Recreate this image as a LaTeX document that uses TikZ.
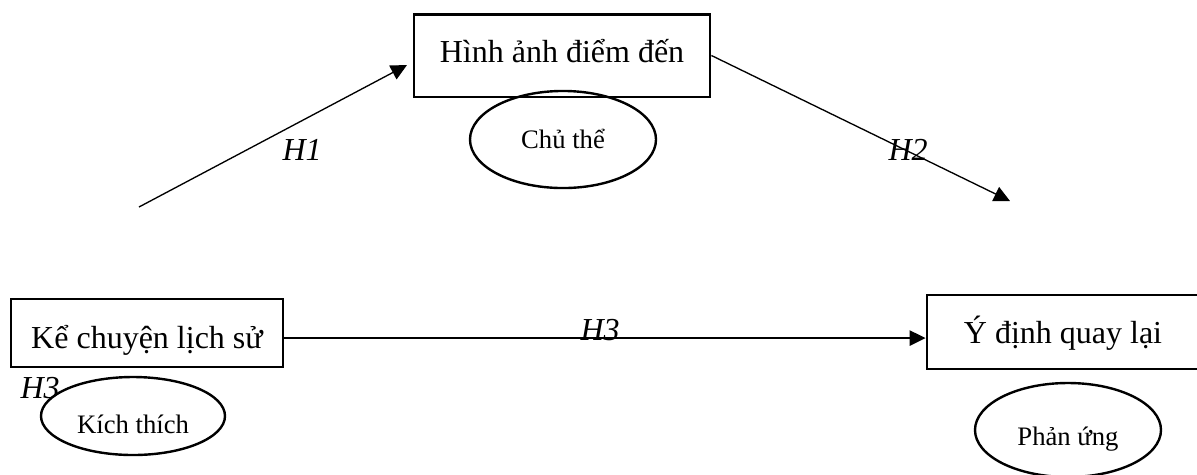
\documentclass[tikz,border=0pt]{standalone}
\usepackage{fontspec}
\setmainfont{Liberation Serif}
\usetikzlibrary{shapes.geometric,arrows.meta}
\begin{document}
\begin{tikzpicture}[x=0.375pt,y=-0.375pt,
  box/.style={draw,line width=1.1pt,inner sep=0pt,font=\fontsize{12}{14}\selectfont},
  oval/.style={draw,ellipse,line width=0.9pt,inner sep=0pt,font=\fontsize{10}{12}\selectfont},
  conn/.style={line width=0.5pt,-{Triangle[length=6pt,width=5.8pt]}},
  hlab/.style={font=\fontsize{12}{14}\selectfont\itshape,inner sep=0pt,anchor=base west}]
\useasboundingbox (0,0) rectangle (1197,474);
\clip (0,0) rectangle (1197,474);
% boxes
\node[box,minimum width=111pt,minimum height=31.1pt,text height=8pt,text depth=2.4pt] (img) at (562,55.5) {Hình ảnh điểm đến};
\node[box,minimum width=102pt,minimum height=25.5pt,text height=13.65pt,text depth=2.4pt] (story) at (147,333) {Kể chuyện lịch sử};
\node[box,minimum width=102pt,minimum height=27.75pt,text height=10.65pt,text depth=2.4pt] (intent) at (1063,332) {Ý định quay lại};
% ellipses
\node[oval,minimum width=69.75pt,minimum height=36.4pt,text height=8pt,text depth=0.9pt] (subj) at (563,139.5) {Chủ thể};
\node[oval,minimum width=69pt,minimum height=29.25pt,text height=13.5pt,text depth=0.75pt] (stim) at (133,416) {Kích thích};
\node[oval,minimum width=69.75pt,minimum height=35.25pt,text height=12pt,text depth=0.75pt] (resp) at (1068,430) {Phản ứng};
% free ends
\coordinate (h1s) at (139,207);
\coordinate (h1e) at (407,65);
\coordinate (h2e) at (1010,201);
% connectors
\draw[conn] (h1s) -- (h1e);
\draw[conn] (img.east) -- (h2e);
\draw[conn] ([yshift=-1.9pt]story.east) -- ([yshift=-1.9pt]story.east -| intent.west);
% labels
\node[hlab] (l1) at (282,160) {H1};
\node[hlab] (l2) at (888,160) {H2};
\node[hlab] (l3) at (580,340) {H3};
\node[hlab] (l4) at (20,398) {H3};
\end{tikzpicture}
\end{document}
